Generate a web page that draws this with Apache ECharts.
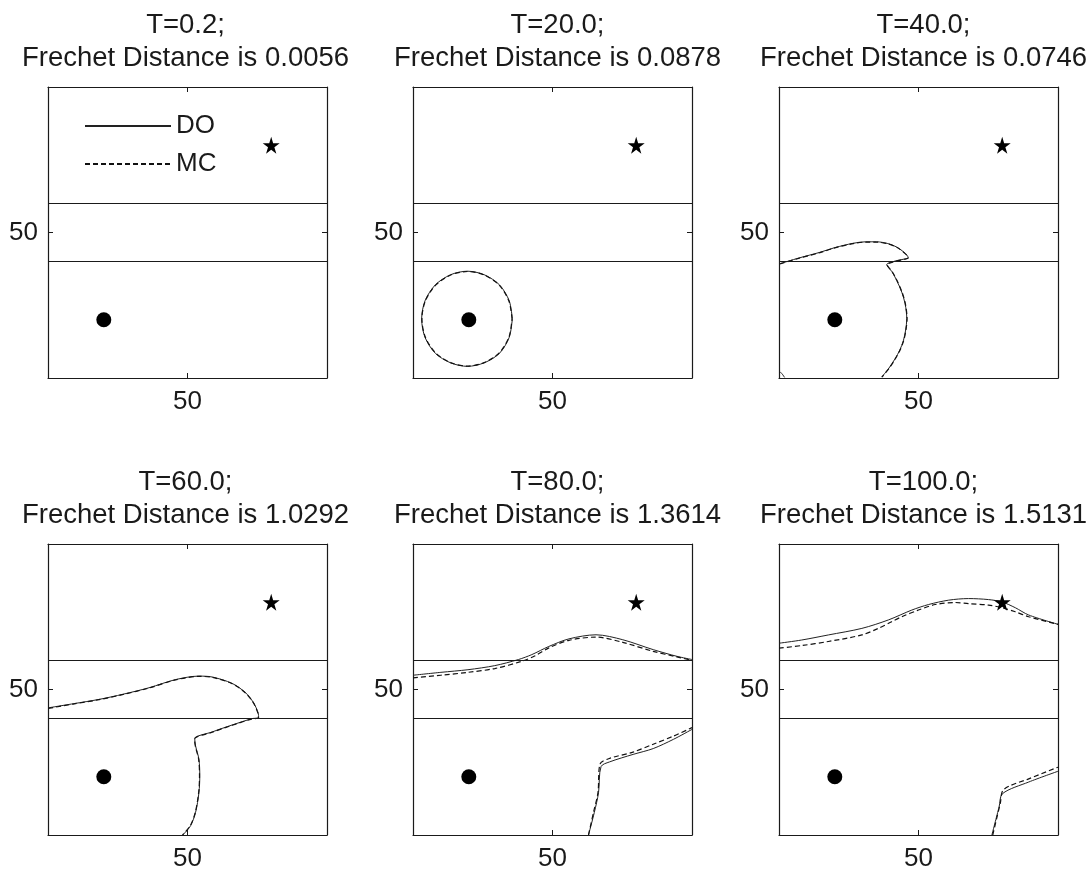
<!DOCTYPE html>
<html>
<head>
<meta charset="utf-8">
<script src="https://cdn.jsdelivr.net/npm/echarts@6/dist/echarts.min.js"></script>
<style>
  html, body { margin: 0; padding: 0; background: #fff; }
  #chart { width: 1092px; height: 878px; }
</style>
</head>
<body>
<div id="chart"></div>
<script>
// panel labels
var timeLabels = ['0.2', '20.0', '40.0', '60.0', '80.0', '100.0'];
var frechetValues = ['0.0056', '0.0878', '0.0746', '1.0292', '1.3614', '1.5131'];
var tickValues = [50];
var bandLimits = [40, 60];
var startPoint = [20, 20];
var goalPoint = [80, 80];

// front curves (x, y)
var do20 = [[35.6, 20.3], [34.5, 26.5], [31, 32], [25.5, 35.5], [19.5, 36.7], [13.5, 35.5], [8, 32], [4.3, 26.5],
  [3.1, 20.3], [4.3, 14], [8, 8.5], [13.5, 5.2], [19.5, 4], [25.5, 5.2], [31, 8.5], [34.5, 14], [35.6, 20.3]];
var mc20 = [[35.5, 20.3], [34.4, 26.4], [30.9, 31.9], [25.5, 35.4], [19.5, 36.6], [13.5, 35.4], [8.1, 31.9], [4.4, 26.4],
  [3.2, 20.3], [4.4, 14.1], [8.1, 8.6], [13.5, 5.3], [19.5, 4.1], [25.5, 5.3], [30.9, 8.6], [34.4, 14.1], [35.5, 20.3]];

var do40 = [[0.4, 39.3], [7, 41.2], [14.7, 43.2], [20, 44.8], [26.6, 46.3], [31, 46.8], [35, 46.8], [39, 46.2], [42.2, 45],
  [44.8, 43.2], [46.3, 41.4], [45.5, 41], [42, 40.3], [40.4, 39.8], [38.6, 39], [40.5, 36.5], [42.2, 33.5], [44, 29.5],
  [45.2, 25.5], [45.8, 20.4], [45.4, 16.5], [44.6, 12.9], [43.3, 9.6], [41.6, 6.6], [39.4, 3.4], [36.8, 0.3]];
var mc40 = [[0.4, 39.2], [7, 41.1], [14.7, 43.1], [20, 44.7], [26.6, 46.2], [31, 46.7], [35, 46.7], [39, 46.1], [42.2, 44.9],
  [44.8, 43.1], [46.4, 41.3], [45.5, 40.9], [42, 40.2], [40.4, 39.7], [38.7, 39], [40.6, 36.5], [42.3, 33.5], [44.1, 29.5],
  [45.3, 25.5], [45.9, 20.4], [45.5, 16.5], [44.7, 12.9], [43.4, 9.6], [41.7, 6.6], [39.5, 3.4], [36.9, 0.3]];
var do40Corner = [[0.3, 2.2], [1.2, 1.3], [2, 0.2]];

var do60 = [[0.1, 43.7], [9, 45.1], [18.3, 46.6], [27, 48.4], [36.2, 50.6], [45.7, 53.4], [54.1, 54.6], [58.8, 54.3],
  [66, 52.1], [70.8, 48.9], [73.7, 45.4], [75.3, 42], [75.5, 40.3], [73.2, 40], [66, 37.8], [58.8, 35.4], [52.6, 33.1],
  [52.9, 30.6], [54.1, 26], [54.4, 20.3], [54.1, 14.6], [52.9, 7.8], [51.1, 3.2], [48.3, 0]];
var mc60 = [[0.1, 43.5], [9, 45], [18.3, 46.5], [27, 48.3], [36.2, 50.5], [45.7, 53.3], [54.1, 54.5], [58.8, 54.2],
  [66, 52], [70.8, 48.8], [73.7, 45.3], [75.2, 42], [75.4, 40.3], [73.1, 39.9], [66, 37.7], [58.8, 35.3], [52.5, 33],
  [52.8, 30.6], [54, 26], [54.3, 20.3], [54, 14.6], [52.8, 7.8], [51, 3.2], [48.2, 0]];

var do80Upper = [[0, 54.9], [10, 55.9], [19.7, 56.8], [29.3, 58.2], [37.8, 60.3], [42.6, 62], [48.7, 64.8], [55.9, 67.4],
  [65.6, 68.8], [75.2, 67.1], [86.1, 63.7], [94.6, 61.4], [100, 60.3]];
var mc80Upper = [[0, 54], [10, 54.9], [19.7, 55.9], [29.3, 57.2], [39, 59.7], [43.8, 61.6], [48.7, 64.3], [55.9, 66.9],
  [65.6, 68], [75.2, 66.2], [86.1, 63.1], [94.6, 61.2], [100, 60]];
var do80Lower = [[62.9, 0], [65, 7.8], [66.5, 14.6], [67.4, 23.5], [70.4, 25.1], [78.9, 27.7], [86.1, 29.7], [93.4, 32.9], [100, 36.3]];
var mc80Lower = [[62.9, 0], [64.7, 7.8], [66.3, 14.6], [67, 24.3], [70.4, 26.3], [78.9, 28.5], [86.1, 31.2], [93.4, 34], [100, 36.9]];

var do100Upper = [[0, 65.9], [8.1, 67], [17.7, 68.75], [29.7, 71], [39.2, 73.9], [47.6, 77.3], [53.6, 79.2], [60.8, 80.7],
  [67.9, 81.25], [75.1, 80.9], [79.9, 80.1], [84.7, 78.1], [89.5, 75.6], [100, 72.4]];
var mc100Upper = [[0, 64.2], [8.1, 65.1], [17.7, 66.5], [29.7, 68.75], [35.6, 71], [40.4, 73.3], [44, 75], [50, 77.3],
  [56, 79.2], [63.2, 79.9], [67.9, 79.5], [75.1, 79], [79.9, 78.1], [84.7, 76.7], [89.5, 75], [100, 72.4]];
var do100Lower = [[76.3, 0], [78.9, 9.7], [80.1, 14.2], [89.5, 18.2], [100, 21.9]];
var mc100Lower = [[76.6, 0], [79.3, 10.8], [80.5, 15.6], [89.5, 19.3], [100, 23.3]];

var panels = [
  { doLines: [], mcLines: [] },
  { doLines: [do20], mcLines: [mc20] },
  { doLines: [do40, do40Corner], mcLines: [mc40] },
  { doLines: [do60], mcLines: [mc60] },
  { doLines: [do80Upper, do80Lower], mcLines: [mc80Upper, mc80Lower] },
  { doLines: [do100Upper, do100Lower], mcLines: [mc100Upper, mc100Lower] }
];

var ink = '#1a1a1a';
var starPath = 'path://M50,0 L61,35 L98,35 L68,57 L79,91 L50,70 L21,91 L32,57 L2,35 L39,35 Z';
var boxLefts = [48, 413, 779];
var boxTops = [87, 544];
var titleShift = [-7, 0, 0];
var boxW = 279, boxH = 291;
var fontFam = '"Liberation Sans", Arial, sans-serif';
var doStyle = { color: '#222', width: 1, type: 'solid' };
var mcStyle = { color: '#111', width: 1.2, type: [5, 3] };

var titles = [], grids = [], xAxes = [], yAxes = [], series = [];

function axisBase(showLabel) {
  return {
    type: 'value', min: 0, max: 100, interval: 50,
    axisLine: { show: true, onZero: false, lineStyle: { color: ink, width: 1.2 } },
    axisTick: { show: true, inside: true, length: 5, customValues: tickValues, lineStyle: { color: ink } },
    axisLabel: {
      show: showLabel, customValues: tickValues, color: ink, fontSize: 26, fontFamily: fontFam,
      formatter: function (v) { return tickValues.indexOf(v) >= 0 ? String(v) : ''; }
    },
    splitLine: { show: false }
  };
}

panels.forEach(function (p, i) {
  var col = i % 3, row = Math.floor(i / 3);
  var left = boxLefts[col], top = boxTops[row];
  grids.push({ left: left, top: top, width: boxW, height: boxH });
  titles.push({
    text: 'T=' + timeLabels[i] + ';\nFrechet Distance is ' + frechetValues[i],
    left: left + boxW / 2 + titleShift[col], top: top - 83, textAlign: 'center',
    textStyle: { color: ink, fontSize: 27.5, fontWeight: 'normal', fontFamily: fontFam, lineHeight: 33 }
  });
  var xb = axisBase(true); xb.gridIndex = i; xb.position = 'bottom'; xb.axisLabel.margin = 11;
  var xt = axisBase(false); xt.gridIndex = i; xt.position = 'top';
  var yl = axisBase(true); yl.gridIndex = i; yl.position = 'left'; yl.axisLabel.margin = 10;
  var yr = axisBase(false); yr.gridIndex = i; yr.position = 'right';
  xAxes.push(xb, xt);
  yAxes.push(yl, yr);

  var ax = { xAxisIndex: 2 * i, yAxisIndex: 2 * i };
  series.push(Object.assign({
    type: 'scatter', name: 'start', data: [startPoint], symbol: 'circle', symbolSize: 15,
    itemStyle: { color: '#000', opacity: 1 }, silent: true,
    markLine: {
      silent: true, symbol: ['none', 'none'], label: { show: false },
      lineStyle: { color: ink, type: 'solid', width: 1 },
      data: bandLimits.map(function (b) { return { yAxis: b }; })
    }
  }, ax));
  series.push(Object.assign({
    type: 'scatter', name: 'goal', data: [goalPoint], symbol: starPath, symbolSize: 17,
    itemStyle: { color: '#000', opacity: 1 }, silent: true, z: 5
  }, ax));
  p.doLines.forEach(function (d) {
    series.push(Object.assign({
      type: 'line', name: 'DO', data: d, symbol: 'none', showSymbol: false, smooth: 0.3,
      itemStyle: { color: '#222' }, lineStyle: doStyle
    }, ax));
  });
  p.mcLines.forEach(function (d) {
    series.push(Object.assign({
      type: 'line', name: 'MC', data: d, symbol: 'none', showSymbol: false, smooth: 0.3,
      itemStyle: { color: '#111' }, lineStyle: mcStyle
    }, ax));
  });
});

var chart = echarts.init(document.getElementById('chart'));
chart.setOption({
  animation: false,
  backgroundColor: '#fff',
  title: titles,
  legend: {
    data: ['DO', 'MC'], orient: 'vertical', left: 79, top: 108,
    itemWidth: 86, itemHeight: 14, itemGap: 12,
    itemStyle: { opacity: 0 },
    textStyle: { color: ink, fontSize: 26, fontFamily: fontFam, lineHeight: 26 },
    selectedMode: false
  },
  grid: grids,
  xAxis: xAxes,
  yAxis: yAxes,
  series: series
});
window.addEventListener('resize', function () { chart.resize(); });
</script>
</body>
</html>
